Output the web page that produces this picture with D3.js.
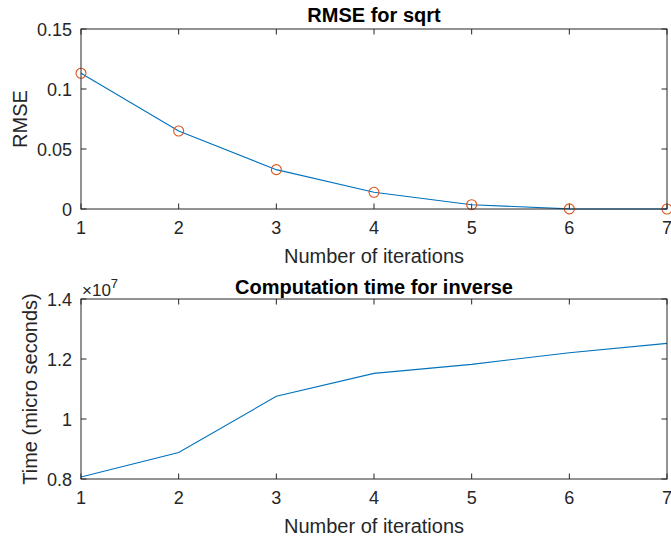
<!DOCTYPE html>
<html><head><meta charset="utf-8">
<script src="https://cdn.jsdelivr.net/npm/d3@7"></script>
<style>body{margin:0;background:#fff}svg{display:block}text{font-family:"Liberation Sans",Arial,sans-serif;fill:#262626}</style>
</head><body>
<script>
const iterations = [1, 2, 3, 4, 5, 6, 7];
const rmseValues = [0.1131, 0.0650, 0.0328, 0.0139, 0.0036, 0.0001, 0.0];
const timeValues = [0.8067e7, 0.8880e7, 1.0756e7, 1.1520e7, 1.1820e7, 1.2210e7, 1.2520e7];
const rmseTicks = [0, 0.05, 0.1, 0.15];
const rmseTickLabels = ["0", "0.05", "0.1", "0.15"];
const timeTicks = [0.8e7, 1.0e7, 1.2e7, 1.4e7];
const timeTickLabels = ["0.8", "1", "1.2", "1.4"];

const W = 671, H = 543;
const svg = d3.select("body").append("svg").attr("width", W).attr("height", H);
const L = 81, R = 667;
const x = d3.scaleLinear().domain([1, 7]).range([L, R]);
const axisColor = "#262626";

function panel(top, bottom, yDomain, ticks, tickLabels, values, title, titleOffset, ylabel, ylabelX, markers, exponent) {
  const y = d3.scaleLinear().domain(yDomain).range([bottom, top]);
  const g = svg.append("g");
  const tl = 5.5;
  iterations.forEach(v => {
    g.append("line").attr("x1", x(v)).attr("x2", x(v)).attr("y1", bottom).attr("y2", bottom - tl).attr("stroke", axisColor);
    g.append("line").attr("x1", x(v)).attr("x2", x(v)).attr("y1", top).attr("y2", top + tl).attr("stroke", axisColor);
    g.append("text").attr("x", x(v)).attr("y", bottom + 25).attr("text-anchor", "middle").attr("font-size", 18).text(v);
  });
  ticks.forEach((t, i) => {
    g.append("line").attr("x1", L).attr("x2", L + tl).attr("y1", y(t)).attr("y2", y(t)).attr("stroke", axisColor);
    g.append("line").attr("x1", R).attr("x2", R - tl).attr("y1", y(t)).attr("y2", y(t)).attr("stroke", axisColor);
    g.append("text").attr("x", L - 9).attr("y", y(t) + 6.5).attr("text-anchor", "end").attr("font-size", 18).text(tickLabels[i]);
  });
  const line = d3.line().x((d, i) => x(iterations[i])).y(d => y(d));
  g.append("path").datum(values).attr("d", line).attr("fill", "none").attr("stroke", "#0072BD").attr("stroke-width", 1.1);
  if (markers) {
    g.selectAll("circle").data(values).join("circle")
      .attr("cx", (d, i) => x(iterations[i])).attr("cy", d => y(d)).attr("r", 5)
      .attr("fill", "none").attr("stroke", "#D95319").attr("stroke-width", 1.1);
  }
  g.append("rect").attr("x", L).attr("y", top).attr("width", R - L).attr("height", bottom - top)
    .attr("fill", "none").attr("stroke", axisColor).attr("stroke-width", 1);
  g.append("text").attr("x", (L + R) / 2).attr("y", top - titleOffset).attr("text-anchor", "middle")
    .attr("font-size", 20).attr("font-weight", "bold").style("fill", "#000").text(title);
  g.append("text").attr("x", (L + R) / 2).attr("y", bottom + 54).attr("text-anchor", "middle")
    .attr("font-size", 20).text("Number of iterations");
  g.append("text").attr("transform", `translate(${ylabelX},${(top + bottom) / 2}) rotate(-90)`)
    .attr("text-anchor", "middle").attr("font-size", 20).text(ylabel);
  if (exponent) {
    const t = g.append("text").attr("x", L + 1).attr("y", top - 3.5).attr("font-size", 17);
    t.append("tspan").text("\u00D710");
    t.append("tspan").attr("dy", -8).attr("font-size", 13).text(exponent);
  }
}

panel(29, 209, [0, 0.15], rmseTicks, rmseTickLabels, rmseValues, "RMSE for sqrt", 7.5, "RMSE", 27, true, null);
panel(299, 479, [0.8e7, 1.4e7], timeTicks, timeTickLabels, timeValues, "Computation time for inverse", 5.5, "Time (micro seconds)", 37, false, "7");
</script>
</body></html>
